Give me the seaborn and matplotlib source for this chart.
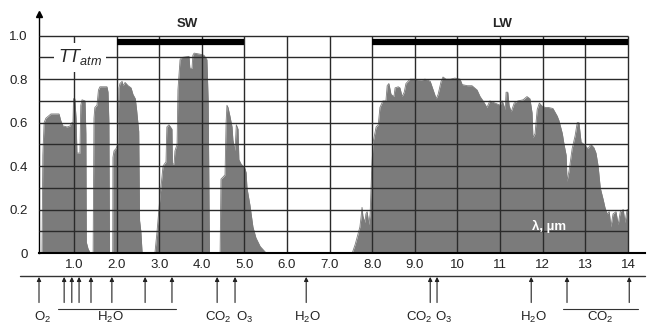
import matplotlib
matplotlib.use("Agg")
import matplotlib.pyplot as plt
import seaborn as sns

# atmospheric transmittance spectrum (wavelength in um)
wavelength = [
    0.18, 0.25, 0.27, 0.30, 0.34, 0.46, 0.65, 0.69, 0.74, 0.84, 0.91, 0.95, 0.977,
    0.99, 1.02, 1.05, 1.07, 1.14, 1.16, 1.19, 1.26, 1.28, 1.29, 1.33, 1.38,
    1.45, 1.47, 1.49, 1.54, 1.575, 1.61, 1.775, 1.80, 1.82, 1.835,
    1.91, 1.915, 1.94, 1.985, 2.03,
    2.056, 2.08, 2.13, 2.15, 2.20, 2.27, 2.34, 2.385, 2.44, 2.47, 2.52, 2.54, 2.57, 2.60,
    2.90, 2.95, 3.02, 3.09, 3.16, 3.18, 3.23, 3.30, 3.31, 3.35, 3.37, 3.42, 3.44, 3.49,
    3.535, 3.70, 3.72, 3.77, 3.79, 3.82, 3.96, 4.05, 4.12, 4.15, 4.18,
    4.43, 4.45, 4.50, 4.545, 4.57, 4.59, 4.615, 4.66, 4.71, 4.73, 4.78, 4.81, 4.85,
    4.87, 4.92, 5.01, 5.04, 5.06, 5.13, 5.20, 5.27, 5.37, 5.51,
    7.53, 7.60, 7.67, 7.71, 7.74, 7.76, 7.78, 7.83, 7.85, 7.88, 7.92, 7.95, 7.99,
    8.02, 8.07, 8.09, 8.14, 8.18, 8.25, 8.32, 8.35, 8.39, 8.44, 8.51, 8.535, 8.61,
    8.65, 8.70, 8.75, 8.79, 8.89, 9.00, 9.12, 9.24, 9.36, 9.43, 9.50, 9.545, 9.615,
    9.66, 9.73, 9.83, 9.94, 10.06, 10.11, 10.23, 10.34, 10.46, 10.53, 10.60, 10.69,
    10.76, 10.88, 11.00, 11.05, 11.12, 11.14, 11.18, 11.21, 11.26, 11.33, 11.42,
    11.54, 11.63, 11.70, 11.75, 11.77, 11.82, 11.87, 11.92, 11.99, 12.06, 12.13,
    12.24, 12.34, 12.38, 12.46, 12.50, 12.55, 12.57, 12.62, 12.69, 12.76, 12.81,
    12.85, 12.90, 12.97, 13.06, 13.13, 13.20, 13.25, 13.30, 13.35, 13.42, 13.46,
    13.51, 13.56, 13.60, 13.65, 13.72, 13.77, 13.82, 13.89, 13.93, 13.98, 14.00, 14.01,
]
transmittance = [
    0.0, 0.0, 0.45, 0.60, 0.62, 0.64, 0.64, 0.61, 0.585, 0.58, 0.585, 0.60, 0.60,
    0.71, 0.71, 0.62, 0.46, 0.46, 0.68, 0.705, 0.70, 0.55, 0.05, 0.02, 0.0,
    0.0, 0.62, 0.67, 0.68, 0.75, 0.765, 0.765, 0.74, 0.60, 0.0,
    0.0, 0.44, 0.47, 0.48, 0.50,
    0.76, 0.78, 0.79, 0.77, 0.785, 0.77, 0.76, 0.73, 0.71, 0.66, 0.56, 0.15, 0.10, 0.0,
    0.0, 0.10, 0.26, 0.40, 0.42, 0.58, 0.59, 0.57, 0.41, 0.41, 0.47, 0.50, 0.75, 0.89,
    0.90, 0.905, 0.85, 0.85, 0.91, 0.92, 0.915, 0.91, 0.89, 0.70, 0.0,
    0.0, 0.34, 0.35, 0.36, 0.60, 0.68, 0.67, 0.63, 0.58, 0.52, 0.47, 0.59, 0.57,
    0.43, 0.41, 0.39, 0.37, 0.30, 0.22, 0.12, 0.07, 0.03, 0.0,
    0.0, 0.04, 0.09, 0.12, 0.17, 0.21, 0.17, 0.14, 0.18, 0.19, 0.13, 0.18, 0.40,
    0.51, 0.56, 0.58, 0.59, 0.67, 0.70, 0.70, 0.77, 0.78, 0.73, 0.72, 0.76, 0.765,
    0.76, 0.72, 0.74, 0.78, 0.80, 0.80, 0.795, 0.80, 0.79, 0.75, 0.71, 0.73, 0.79,
    0.81, 0.80, 0.80, 0.805, 0.80, 0.775, 0.77, 0.77, 0.75, 0.72, 0.70, 0.67,
    0.70, 0.69, 0.68, 0.70, 0.66, 0.74, 0.74, 0.68, 0.65, 0.69, 0.70,
    0.705, 0.72, 0.71, 0.645, 0.53, 0.55, 0.66, 0.69, 0.675, 0.67, 0.67,
    0.665, 0.63, 0.61, 0.55, 0.50, 0.45, 0.33, 0.38, 0.48, 0.54, 0.60,
    0.60, 0.51, 0.50, 0.48, 0.50, 0.485, 0.46, 0.40, 0.30, 0.245, 0.21,
    0.18, 0.19, 0.12, 0.18, 0.19, 0.13, 0.19, 0.20, 0.14, 0.20, 0.20, 0.0,
]

x_ticks = [1, 2, 3, 4, 5, 6, 7, 8, 9, 10, 11, 12, 13, 14]
x_tick_labels = ["1.0", "2.0", "3.0", "4.0", "5.0", "6.0", "7.0", "8.0", "9.0",
                 "10", "11", "12", "13", "14"]
y_grid = [0.1, 0.2, 0.3, 0.4, 0.5, 0.6, 0.7, 0.8, 0.9, 1.0]
y_ticks = [0, 0.2, 0.4, 0.6, 0.8, 1.0]
y_tick_labels = ["0", "0.2", "0.4", "0.6", "0.8", "1.0"]

# absorption band arrows below the axis
absorber_x = [0.18, 0.77, 0.95, 1.12, 1.40, 1.89, 2.67, 3.30, 4.36, 4.78,
              6.45, 9.36, 9.52, 11.73, 12.57, 14.03]
gas_names = ["O$_2$", "H$_2$O", "CO$_2$", "O$_3$", "H$_2$O", "CO$_2$", "O$_3$",
             "H$_2$O", "CO$_2$"]
gas_x = [0.27, 1.85, 4.38, 5.0, 6.49, 9.10, 9.68, 11.77, 13.35]
gas_ranges = [(0.62, 3.39), (12.48, 14.24)]

sw_band = (2, 5)
lw_band = (8, 14)

sns.set_style("white")
plt.rcParams["font.family"] = ["Liberation Sans", "DejaVu Sans"]
plt.rcParams["mathtext.fontset"] = "custom"
plt.rcParams["mathtext.rm"] = "Liberation Sans"
plt.rcParams["mathtext.it"] = "Liberation Sans:italic"

fig = plt.figure(figsize=(6.51, 3.27), dpi=100)
ax = fig.add_axes([39 / 651, 74 / 327, 606 / 651, 239 / 327])

fill_color = "#7b7b7b"
ax.fill_between(wavelength, transmittance, color=fill_color, lw=0, zorder=1)
sns.lineplot(x=wavelength, y=transmittance, color=fill_color, lw=0.6,
             sort=False, estimator=None, ax=ax, zorder=1)

ax.set_xlim(0.18, 14.4)
ax.set_ylim(0, 1.1)

# grid only inside the 0..14 / 0..1 box, drawn over the fill
ax.hlines(y_grid, 0.18, 14, color="#2a2a2a", lw=1.0, zorder=3)
ax.vlines(x_ticks, 0, 1.0, color="#2a2a2a", lw=1.0, zorder=3)

# SW / LW bars
ax.hlines(0.972, sw_band[0], sw_band[1], color="k", lw=4.5, zorder=4)
ax.hlines(0.972, lw_band[0], lw_band[1], color="k", lw=4.5, zorder=4)
ax.text(3.65, 1.055, "SW", ha="center", va="center", fontsize=9.5, fontweight="bold")
ax.text(11.05, 1.055, "LW", ha="center", va="center", fontsize=9.5, fontweight="bold")

ax.text(1.14, 0.9, "$TT_{atm}$", ha="center", va="center", fontsize=13, zorder=5,
        bbox=dict(facecolor="white", edgecolor="none", pad=3))
ax.text(12.15, 0.12, "λ, µm", ha="center", va="center", fontsize=9.5,
        fontweight="bold", color="white", zorder=5)

ax.set_xticks(x_ticks, x_tick_labels)
ax.set_yticks(y_ticks, y_tick_labels)
ax.tick_params(length=0, labelsize=9.5, colors="#222222")
ax.tick_params(axis="x", pad=4)
ax.tick_params(axis="y", pad=8)

for side in ["top", "right"]:
    ax.spines[side].set_visible(False)
ax.spines["left"].set_color("k")
ax.spines["left"].set_linewidth(1.0)
ax.spines["bottom"].set_color("k")
ax.spines["bottom"].set_linewidth(1.5)
ax.spines["bottom"].set_zorder(4)
ax.plot([0], [1], marker="^", color="k", ms=4, transform=ax.transAxes, clip_on=False)

# lower band annotation strip
ax.plot([-0.27, 14.4], [-0.106, -0.106], color="#333333", lw=1.0, clip_on=False)
for x in absorber_x:
    ax.annotate("", xy=(x, -0.11), xytext=(x, -0.228), annotation_clip=False,
                arrowprops=dict(arrowstyle="-|>", lw=0.8, color="#222222",
                                mutation_scale=6, shrinkA=0, shrinkB=0))
for name, x in zip(gas_names, gas_x):
    ax.text(x, -0.296, name, ha="center", va="center", fontsize=9.5, color="#222222")
for x0, x1 in gas_ranges:
    ax.plot([x0, x1], [-0.258, -0.258], color="#333333", lw=0.8, clip_on=False)

fig.savefig("out.png", dpi=100)
plt.close(fig)
